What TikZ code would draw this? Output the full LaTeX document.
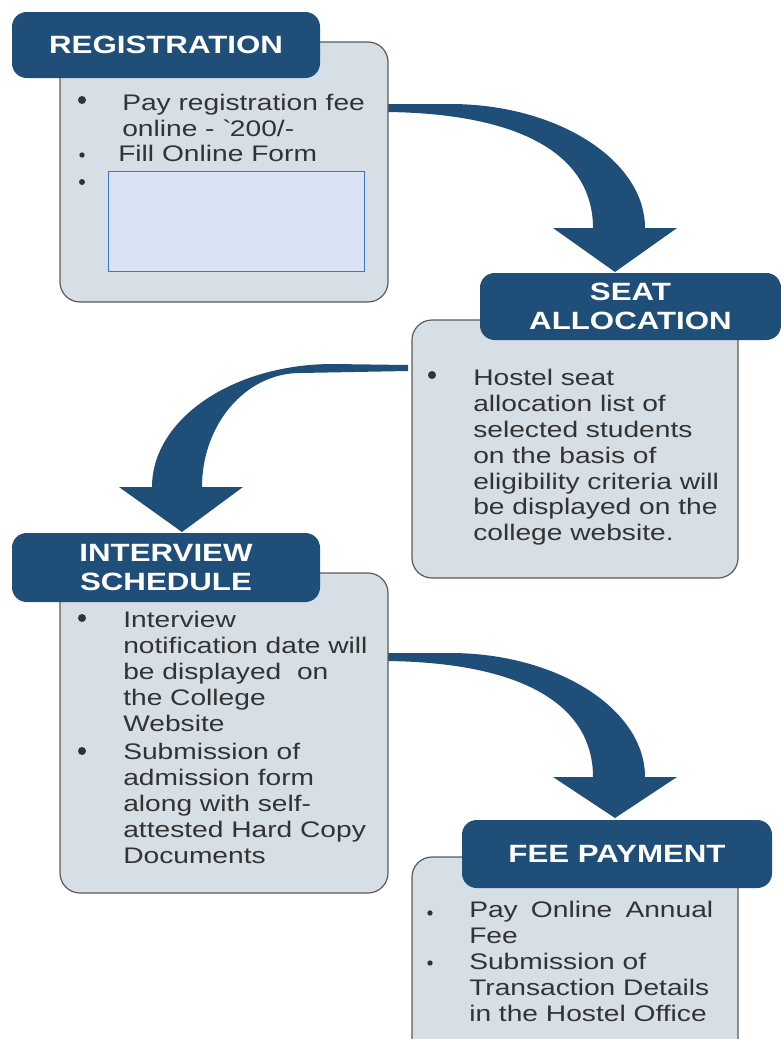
\documentclass[tikz,border=0pt]{standalone}
\usepackage{fontspec}
\setmainfont{Liberation Sans}[FakeStretch=1.25]
\definecolor{navy}{RGB}{31,78,121}
\definecolor{panel}{RGB}{214,222,230}
\definecolor{rim}{RGB}{90,90,90}
\definecolor{ink}{RGB}{51,51,51}
\definecolor{cover}{RGB}{218,227,243}
\definecolor{coverrim}{RGB}{68,114,196}
\newcommand{\bodyfont}{\fontsize{16.9}{19.4}\selectfont}
\newcommand{\headfont}{\fontsize{18.75}{21.75}\selectfont\bfseries}
\tikzset{
  panelbox/.style={draw=rim, fill=panel, line width=0.9pt, rounded corners=15pt, inner sep=0pt},
  headbox/.style={fill=navy, text=white, rounded corners=11pt, inner sep=0pt, align=center, font=\headfont},
  itemtxt/.style={anchor=north west, inner sep=0pt, align=left, text=ink, font=\bodyfont},
  flow/.style={fill=navy},
}
\begin{document}
\begin{tikzpicture}[x=0.75pt, y=-0.75pt]
\clip (0,0) rectangle (781,1039);
% arrows
\fill[flow] (388,104) -- (450,104) .. controls (557,104) and (645,160) .. (645,228) -- (677,228) -- (615,272) -- (553,228) -- (593,228) .. controls (593,160) and (530,114) .. (388,112) -- cycle;
\fill[flow] (408,365) -- (333,364) .. controls (233,364) and (152,419) .. (152,487) -- (119,487) -- (182,532) -- (243,487) -- (202,487) .. controls (202,424) and (246,373) .. (300,373) -- (408,371) -- cycle;
\fill[flow] (388,653) -- (450,653) .. controls (557,653) and (645,709) .. (645,777) -- (677,777) -- (615,818) -- (553,777) -- (593,777) .. controls (593,709) and (530,663) .. (388,661) -- cycle;

% registration
\node[panelbox, minimum width=246pt, minimum height=195pt] (rbody) at (224,172) {};
\node[headbox, minimum width=231pt, minimum height=49.5pt] (rhead) at (166,45) {REGISTRATION};
\node[circle, fill=ink, inner sep=0pt, minimum size=6pt] (rd1) at (82,100) {};
\node[circle, fill=ink, inner sep=0pt, minimum size=4pt] (rd2) at (82,155) {};
\node[circle, fill=ink, inner sep=0pt, minimum size=4.5pt] (rd3) at (82,182) {};
\node[itemtxt] (rt1) at (122,94) {Pay registration fee\\online - \textasciigrave200/-};
\node[itemtxt] (rt2) at (118,145) {Fill Online Form};
\node[draw=coverrim, fill=cover, line width=0.6pt, inner sep=0pt, minimum width=192pt, minimum height=75pt] (rcover) at (236,221) {};

% seat allocation
\node[panelbox, minimum width=244.5pt, minimum height=193.5pt] (sbody) at (575,449) {};
\node[headbox, minimum width=225.75pt, minimum height=50.25pt] (shead) at (630.5,306.5) {SEAT\\ALLOCATION};
\node[circle, fill=ink, inner sep=0pt, minimum size=6pt] (sd1) at (432,375) {};
\node[itemtxt] (st1) at (473,369) {Hostel seat\\allocation list of\\selected students\\on the basis of\\eligibility criteria will\\be displayed on the\\college website.};

% interview schedule
\node[panelbox, minimum width=246pt, minimum height=240pt] (ibody) at (224,733) {};
\node[headbox, minimum width=231pt, minimum height=51.75pt] (ihead) at (166,567.5) {INTERVIEW\\SCHEDULE};
\node[circle, fill=ink, inner sep=0pt, minimum size=6pt] (id1) at (82,618) {};
\node[circle, fill=ink, inner sep=0pt, minimum size=6pt] (id2) at (82,751) {};
\node[itemtxt] (it1) at (123,611) {Interview\\notification date will\\be displayed\ \ on\\the College\\Website};
\node[itemtxt] (it2) at (123,743) {Submission of\\admission form\\along with self-\\attested Hard Copy\\Documents};

% fee payment
\node[panelbox, minimum width=244.5pt, minimum height=159.75pt] (fbody) at (575,963.5) {};
\node[headbox, minimum width=232.5pt, minimum height=51pt] (fhead) at (617,854) {FEE PAYMENT};
\node[circle, fill=ink, inner sep=0pt, minimum size=4pt] (fd1) at (430,913) {};
\node[circle, fill=ink, inner sep=0pt, minimum size=4pt] (fd2) at (430,963) {};
\node[itemtxt] (ft1) at (469,901) {\makebox[183pt][s]{Pay Online Annual}\\Fee};
\node[itemtxt] (ft2) at (469,953) {Submission of\\Transaction Details\\in the Hostel Office};
\end{tikzpicture}
\end{document}
